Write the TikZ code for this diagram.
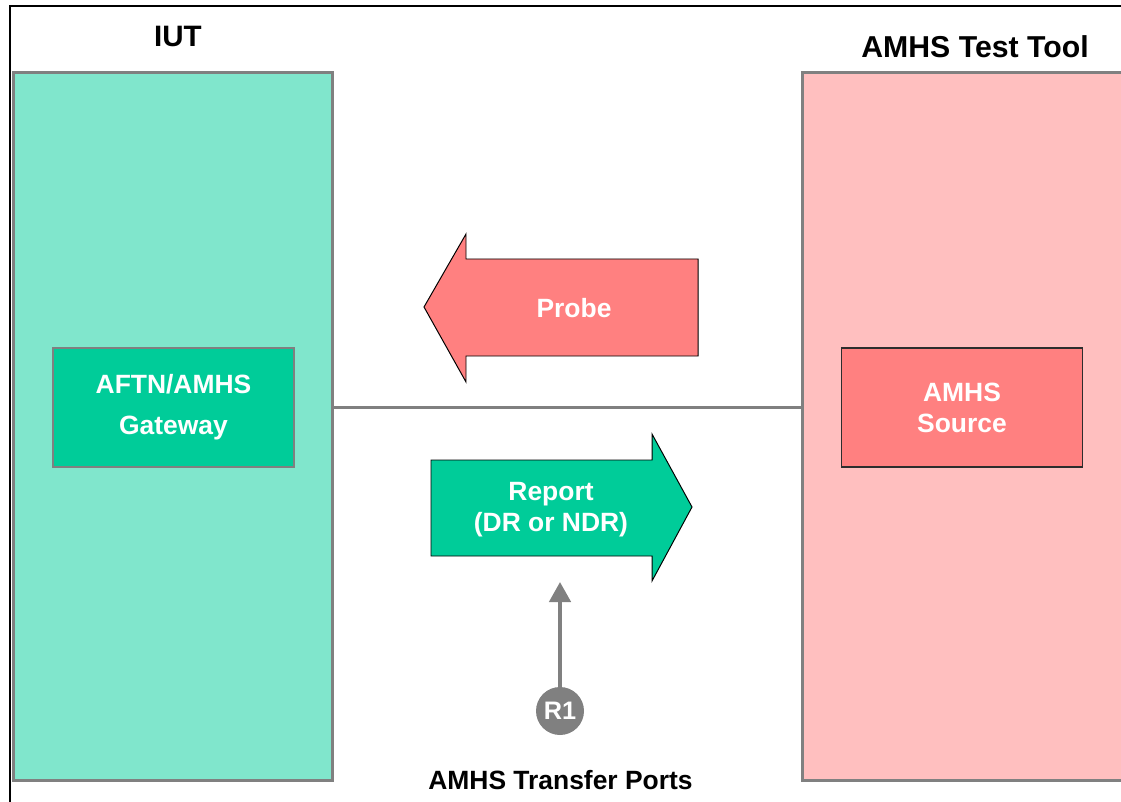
\documentclass[tikz,border=0pt]{standalone}
\usepackage{fontspec}
\setmainfont{Liberation Sans}
\usetikzlibrary{arrows.meta,positioning}
\definecolor{jade}{RGB}{0,204,153}
\definecolor{coral}{RGB}{255,128,128}
\definecolor{rim}{RGB}{128,128,128}
\definecolor{ink}{RGB}{45,45,45}
\tikzset{
  panel/.style={draw=rim,line width=2.1pt,fill=#1!50,minimum width=79.8mm,
    minimum height=176.9mm,inner sep=0pt},
  unit/.style={draw=#1,line width=1pt,minimum width=60.2mm,minimum height=29.8mm,inner sep=0pt},
  heading/.style={font=\fontsize{#1}{#1}\selectfont\bfseries,inner sep=0pt,anchor=base},
  whitetext/.style={text=white,font=\fontsize{18.8}{#1}\selectfont\bfseries,align=center,inner sep=0pt},
  whitetext/.default=22pt,
  blockarrow/.style={fill=#1,draw=black,line width=0.7pt},
  link/.style={draw=rim,line width=2.8pt},
  port/.style={circle,fill=rim,text=white,minimum size=12mm,inner sep=0pt,
    font=\fontsize{18}{20}\selectfont\bfseries},
  portline/.style={-{Triangle[length=5mm,width=5.3mm]},draw=rim,line width=2.8pt},
}
\begin{document}
\begin{tikzpicture}[x=0.25mm,y=-0.25mm]
  \useasboundingbox (0,0) rectangle (1121,802);
  % frame
  \draw[line width=1.4pt] (10,802) -- (10,6) -- (1121,6);
  % the two sides
  \node[panel=jade] (iut) at (173.25,426.25) {};
  \node[panel=coral,minimum width=80.2mm] (tool) at (962.5,426.25) {};
  \node[heading=21pt] (iutlabel) at (178,47) {IUT};
  \node[heading=21.5pt] (toollabel) at (975,58) {AMHS Test Tool};
  \node[unit=rim,fill=jade,whitetext=29pt] (gateway) at (173.5,407.5) {AFTN/AMHS\\Gateway};
  \node[unit=ink,fill=coral,whitetext] (source) at (962,407.5) {AMHS\\Source};
  \draw[link] (iut.east |- gateway.center) -- (tool.west |- source.center);
  % block arrows
  \filldraw[blockarrow=coral] (424,307) -- (466,234) -- (466,259) -- (698,259) -- (698,356)
    -- (466,356) -- (466,382) -- cycle;
  \node[whitetext,anchor=base] (probe) at (574,318) {Probe};
  \filldraw[blockarrow=jade] (431,460) -- (652,460) -- (652,434) -- (692,507) -- (652,581)
    -- (652,556) -- (431,556) -- cycle;
  \node[whitetext] (report) at (551,510) {Report\\(DR or NDR)};
  % transfer port
  \node[port] (r1) at (560,711) {R1};
  \coordinate (r1tip) at (560,582);
  \draw[portline] (r1) -- (r1tip);
  \node[heading=18.8pt] (ports) at (560.5,789) {AMHS Transfer Ports};
\end{tikzpicture}
\end{document}
